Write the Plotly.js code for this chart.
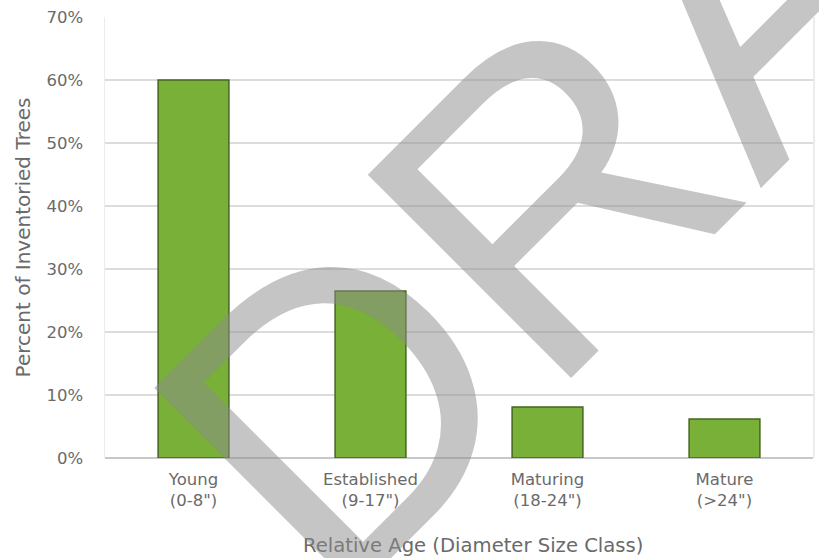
<!DOCTYPE html>
<html>
<head>
<meta charset="utf-8">
<script src="https://cdn.plot.ly/plotly-3.0.1.min.js"></script>
<style>html,body{margin:0;padding:0;background:#fff;}#chart{width:819px;height:558px;}</style>
</head>
<body>
<div id="chart"></div>
<script>
const categories = ['Young<br>(0-8")', 'Established<br>(9-17")', 'Maturing<br>(18-24")', 'Mature<br>(>24")'];
const percentValues = [0.60, 0.265, 0.081, 0.062];
const yTickValues = [0, 0.1, 0.2, 0.3, 0.4, 0.5, 0.6, 0.7];
const yTickLabels = ['0%', '10%', '20%', '30%', '40%', '50%', '60%', '70%'];
const xTitleText = 'Relative Age (Diameter Size Class)';
const yTitleText = 'Percent of Inventoried Trees';
const watermarkText = 'DRAFT';

const font = 'DejaVu Sans, sans-serif';
const textColor = '#6a6a6a';

const trace = {
  type: 'bar',
  x: categories,
  y: percentValues,
  width: 0.4,
  marker: {color: '#78b038', line: {color: '#45651f', width: 1.5}},
  hoverinfo: 'skip'
};

const layout = {
  width: 819, height: 558,
  margin: {l: 105, r: 6, t: 17, b: 100},
  paper_bgcolor: '#ffffff', plot_bgcolor: '#ffffff',
  showlegend: false,
  font: {family: font, color: textColor, size: 16},
  xaxis: {
    type: 'category',
    tickfont: {family: font, size: 16.5, color: textColor},
    ticks: '', showgrid: false, zeroline: false, showline: false,
    ticklabelstandoff: 9
  },
  yaxis: {
    range: [0, 0.7],
    tickvals: yTickValues, ticktext: yTickLabels,
    tickfont: {family: font, size: 16.5, color: textColor},
    ticks: '', ticklabelstandoff: 17,
    showgrid: true, gridcolor: '#dcdcdc', gridwidth: 1.2,
    zeroline: true, zerolinecolor: '#c8c8c8', zerolinewidth: 1.5,
    showline: true, mirror: true, linecolor: '#ececec', linewidth: 1.5,
    title: {text: yTitleText, font: {family: font, size: 20, color: textColor}, standoff: 10}
  },
  annotations: [{
    xref: 'paper', yref: 'paper',
    x: (473 - 105) / 708, y: -(545 - 458) / 441,
    text: xTitleText, showarrow: false,
    font: {family: font, size: 19.6, color: textColor},
    xanchor: 'center', yanchor: 'middle'
  }, {
    xref: 'paper', yref: 'paper',
    x: (723 - 105) / 708, y: (458 - 21) / 441,
    text: watermarkText, showarrow: false,
    textangle: -45,
    font: {family: 'Liberation Sans, Arial, sans-serif', size: 418, color: 'rgba(140,140,140,0.5)'},
    xanchor: 'center', yanchor: 'middle'
  }]
};

Plotly.newPlot('chart', [trace], layout, {staticPlot: true, displayModeBar: false});
</script>
</body>
</html>
